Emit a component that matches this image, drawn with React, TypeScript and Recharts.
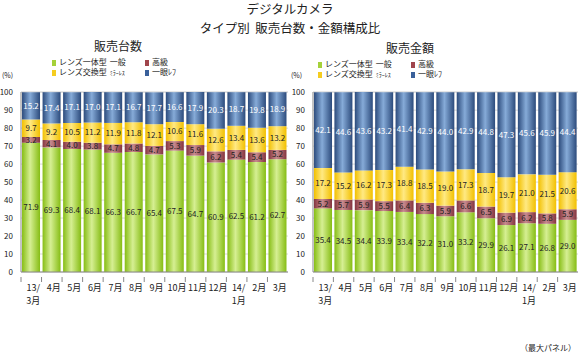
import React from 'react';
import { BarChart, Bar, XAxis, YAxis, CartesianGrid, LabelList } from 'recharts';

const months = ['13/\n3月', '4月', '5月', '6月', '7月', '8月', '9月', '10月', '11月', '12月', '14/\n1月', '2月', '3月'];
const yTicks = [0, 10, 20, 30, 40, 50, 60, 70, 80, 90, 100];

// 販売台数
const unitsCompact = [71.9, 69.3, 68.4, 68.1, 66.3, 66.7, 65.4, 67.5, 64.7, 60.9, 62.5, 61.2, 62.7];
const unitsPremium = [3.2, 4.1, 4.0, 3.8, 4.7, 4.8, 4.7, 5.3, 5.9, 6.2, 5.4, 5.4, 5.2];
const unitsMirrorless = [9.7, 9.2, 10.5, 11.2, 11.9, 11.8, 12.1, 10.6, 11.6, 12.6, 13.4, 13.6, 13.2];
const unitsSlr = [15.2, 17.4, 17.1, 17.0, 17.1, 16.7, 17.7, 16.6, 17.9, 20.3, 18.7, 19.8, 18.9];

// 販売金額
const valueCompact = [35.4, 34.5, 34.4, 33.9, 33.4, 32.2, 31.0, 33.2, 29.9, 26.1, 27.1, 26.8, 29.0];
const valuePremium = [5.2, 5.7, 5.9, 5.5, 6.4, 6.3, 5.9, 6.6, 6.5, 6.9, 6.2, 5.8, 5.9];
const valueMirrorless = [17.2, 15.2, 16.2, 17.3, 18.8, 18.5, 19.0, 17.3, 18.7, 19.7, 21.0, 21.5, 20.6];
const valueSlr = [42.1, 44.6, 43.6, 43.2, 41.4, 42.9, 44.0, 42.9, 44.8, 47.3, 45.6, 45.9, 44.4];

const FONT = '"Noto Sans CJK JP", "Noto Sans", sans-serif';

const unitsData = months.map((m, i) => ({
  month: m,
  compact: unitsCompact[i],
  premium: unitsPremium[i],
  mirrorless: unitsMirrorless[i],
  slr: unitsSlr[i],
}));

const valueData = months.map((m, i) => ({
  month: m,
  compact: valueCompact[i],
  premium: valuePremium[i],
  mirrorless: valueMirrorless[i],
  slr: valueSlr[i],
}));

const gradients = [
  { id: 'gGreen', edge: '#86bd14', mid: '#d6ef93' },
  { id: 'gRed', edge: '#853540', mid: '#c78a8e' },
  { id: 'gYellow', edge: '#f2c000', mid: '#ffe983' },
  { id: 'gBlue', edge: '#2c4b7c', mid: '#86abd8' },
];

const Defs = ({ prefix }: { prefix: string }) => (
  <defs>
    {gradients.map((g) => (
      <linearGradient key={g.id} id={prefix + g.id} x1="0" y1="0" x2="1" y2="0">
        <stop offset="0%" stopColor={g.edge} />
        <stop offset="45%" stopColor={g.mid} />
        <stop offset="100%" stopColor={g.edge} />
      </linearGradient>
    ))}
  </defs>
);

const fmt = (v: any) => Number(v).toFixed(1);

const MonthTick = (props: any) => {
  const { x, y, payload, band } = props;
  const lines = String(payload.value).split('\n');
  return (
    <g>
      <line x1={x - band / 2} y1={y - 3} x2={x - band / 2} y2={y + 2} stroke="#888" />
      {lines.map((l, i) => (
        <text key={i} x={x + 2} y={y + 11 + i * 13} textAnchor="middle" fontSize={9} fill="#222" fontFamily={FONT}>
          {l}
        </text>
      ))}
    </g>
  );
};

const StackChart = ({ data, prefix, yWidth, width }: { data: any[]; prefix: string; yWidth: number; width: number }) => {
  const band = (width - yWidth - 2) / data.length;
  return (
    <BarChart
      width={width}
      height={356}
      data={data}
      margin={{ top: 92, right: 2, bottom: 42, left: 0 }}
      barCategoryGap="5%"
      style={{ fontFamily: FONT }}
    >
      <Defs prefix={prefix} />
      <CartesianGrid vertical={false} stroke="#d8d8d8" />
      <XAxis
        dataKey="month"
        interval={0}
        tickLine={false}
        axisLine={{ stroke: '#888' }}
        tick={<MonthTick band={band} />}
        height={42}
      />
      <YAxis
        width={yWidth}
        domain={[0, 100]}
        ticks={yTicks}
        interval={0}
        tickLine={false}
        axisLine={{ stroke: '#888' }}
        tick={{ fontSize: 8, fill: '#222', fontFamily: FONT }}
        tickMargin={2}
      />
      <Bar dataKey="compact" stackId="a" fill={`url(#${prefix}gGreen)`} isAnimationActive={false}>
        <LabelList dataKey="compact" position="center" formatter={fmt} fontSize={8} fill="#222" />
      </Bar>
      <Bar dataKey="premium" stackId="a" fill={`url(#${prefix}gRed)`} isAnimationActive={false}>
        <LabelList dataKey="premium" position="center" formatter={fmt} fontSize={8} fill="#222" />
      </Bar>
      <Bar dataKey="mirrorless" stackId="a" fill={`url(#${prefix}gYellow)`} isAnimationActive={false}>
        <LabelList dataKey="mirrorless" position="center" formatter={fmt} fontSize={8} fill="#222" />
      </Bar>
      <Bar dataKey="slr" stackId="a" fill={`url(#${prefix}gBlue)`} isAnimationActive={false}>
        <LabelList dataKey="slr" position="center" formatter={fmt} fontSize={8} fill="#ffffff" />
      </Bar>
    </BarChart>
  );
};

const Swatch = ({ color }: { color: string }) => (
  <span style={{ display: 'inline-block', width: 4, height: 6, background: color, marginRight: 3, verticalAlign: 'middle' }} />
);

const LegendBlock = ({ left, top }: { left: number; top: number }) => {
  const item = (color: string, main: string, sub: string, x: number, y: number) => (
    <div style={{ position: 'absolute', left: x, top: y, whiteSpace: 'nowrap', fontSize: 8, lineHeight: '10px', color: '#222' }}>
      <Swatch color={color} />
      {main}
      {sub && <span style={{ fontSize: sub === '一般' ? 8 : 6, marginLeft: 3 }}>{sub}</span>}
    </div>
  );
  return (
    <div style={{ position: 'absolute', left, top }}>
      {item('#a5d13a', 'レンズ一体型', '一般', 0, 0)}
      {item('#f5cd20', 'レンズ交換型', 'ﾐﾗｰﾚｽ', 0, 10)}
      {item('#a0454c', '高級', '', 93, 0)}
      {item('#3a609a', '一眼ﾚﾌ', '', 93, 10)}
    </div>
  );
};

const App = () => (
  <div style={{ position: 'absolute', left: 0, top: 0, width: 580, height: 356, background: '#fff', fontFamily: FONT, overflow: 'hidden' }}>
    <div style={{ position: 'absolute', left: 0, width: 580, top: 1, textAlign: 'center', fontSize: 12.5, lineHeight: '15px', color: '#222' }}>
      デジタルカメラ
    </div>
    <div style={{ position: 'absolute', left: 0, width: 580, top: 20, textAlign: 'center', fontSize: 12.5, lineHeight: '15px', color: '#222' }}>
      タイプ別&nbsp;&nbsp;販売台数・金額構成比
    </div>
    <div style={{ position: 'absolute', left: 78, width: 80, top: 37, textAlign: 'center', fontSize: 12, color: '#222' }}>販売台数</div>
    <div style={{ position: 'absolute', left: 370, width: 80, top: 39, textAlign: 'center', fontSize: 12, color: '#222' }}>販売金額</div>
    <LegendBlock left={52} top={57} />
    <LegendBlock left={318} top={59} />
    <div style={{ position: 'absolute', left: 2, top: 70, fontSize: 7, color: '#222' }}>(%)</div>
    <div style={{ position: 'absolute', left: 291, top: 70, fontSize: 7, color: '#222' }}>(%)</div>
    <div style={{ position: 'absolute', left: 0, top: 0 }}>
      <StackChart data={unitsData} prefix="u" yWidth={21} width={290} />
    </div>
    <div style={{ position: 'absolute', left: 290, top: 0 }}>
      <StackChart data={valueData} prefix="v" yWidth={23} width={290} />
    </div>
    <div style={{ position: 'absolute', right: 4, top: 342, fontSize: 8, color: '#222' }}>（最大パネル）</div>
  </div>
);

export default App;
